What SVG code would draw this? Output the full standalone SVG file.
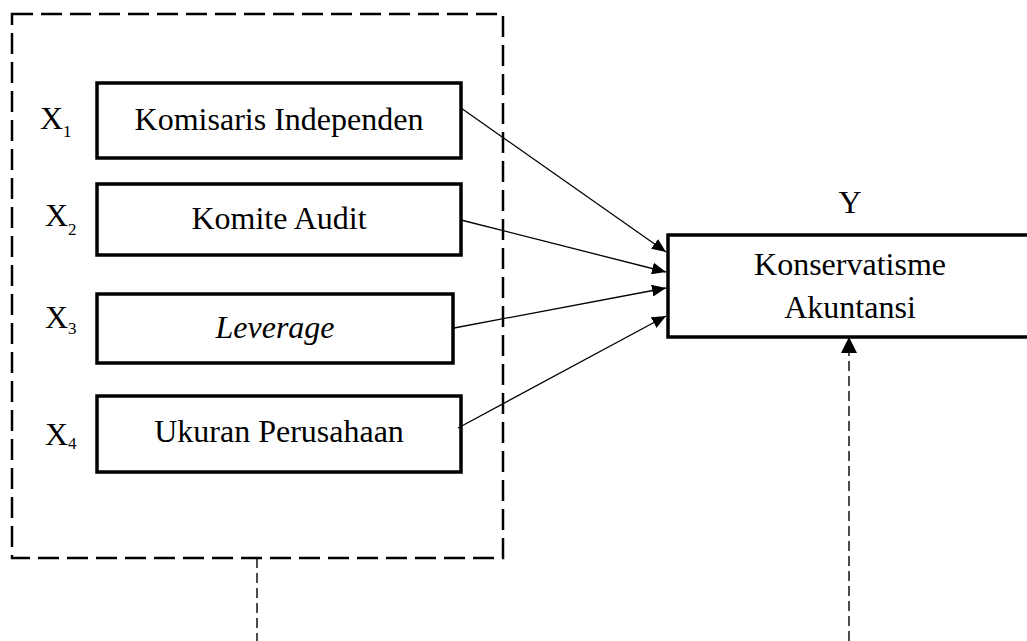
<svg xmlns="http://www.w3.org/2000/svg" width="1027" height="641" viewBox="0 0 1027 641">
<style>
.box{fill:#fff;stroke:#000;stroke-width:3.5}
.t{font-family:"Liberation Serif","Times New Roman",serif;font-size:32px;fill:#000}
.sub{font-family:"Liberation Serif","Times New Roman",serif;font-size:17px;fill:#000}
.ln{stroke:#000;stroke-width:1.3;fill:none}
.dash{stroke:#000;stroke-width:1.4;fill:none;stroke-dasharray:10 5}
</style>
<defs>
<marker id="ah" markerWidth="14" markerHeight="12" refX="14" refY="6" orient="auto" markerUnits="userSpaceOnUse">
<path d="M0,0 L14,6 L0,12 Z" fill="#000"/>
</marker>
<marker id="ah2" markerWidth="16" markerHeight="16" refX="16" refY="8" orient="auto" markerUnits="userSpaceOnUse">
<path d="M0,0 L16,8 L0,16 Z" fill="#000"/>
</marker>
</defs>
<rect id="group" x="12" y="14" width="491" height="544" fill="none" stroke="#000" stroke-width="2.5" stroke-dasharray="21 8"/>
<g id="x1">
<rect class="box" x="97" y="83" width="364" height="75"/>
<text class="t" x="279" y="130" text-anchor="middle">Komisaris Independen</text>
<text class="t" x="40" y="129">X<tspan class="sub" dy="8">1</tspan></text>
</g>
<g id="x2">
<rect class="box" x="97" y="184" width="364" height="71"/>
<text class="t" x="279" y="229" text-anchor="middle">Komite Audit</text>
<text class="t" x="45" y="226">X<tspan class="sub" dy="9">2</tspan></text>
</g>
<g id="x3">
<rect class="box" x="97" y="294" width="356" height="69"/>
<text class="t" x="275" y="338" text-anchor="middle" font-style="italic">Leverage</text>
<text class="t" x="45" y="328">X<tspan class="sub" dy="6">3</tspan></text>
</g>
<g id="x4">
<rect class="box" x="97" y="396" width="364" height="76"/>
<text class="t" x="279" y="442" text-anchor="middle">Ukuran Perusahaan</text>
<text class="t" x="45" y="445">X<tspan class="sub" dy="4">4</tspan></text>
</g>
<g id="y">
<rect class="box" x="668" y="235" width="380" height="102"/>
<text class="t" x="850" y="275" text-anchor="middle">Konservatisme</text>
<text class="t" x="850" y="318" text-anchor="middle">Akuntansi</text>
<text class="t" x="850" y="213" text-anchor="middle">Y</text>
</g>
<g id="connectors">
<line class="ln" x1="461" y1="108" x2="666" y2="252" marker-end="url(#ah)"/>
<line class="ln" x1="461" y1="220" x2="666" y2="272" marker-end="url(#ah)"/>
<line class="ln" x1="454" y1="328" x2="666" y2="288" marker-end="url(#ah)"/>
<line class="ln" x1="458" y1="428" x2="666" y2="316" marker-end="url(#ah)"/>
<line class="dash" x1="257" y1="558" x2="257" y2="641"/>
<line class="dash" x1="849" y1="641" x2="849" y2="337" marker-end="url(#ah2)"/>
</g>
</svg>
